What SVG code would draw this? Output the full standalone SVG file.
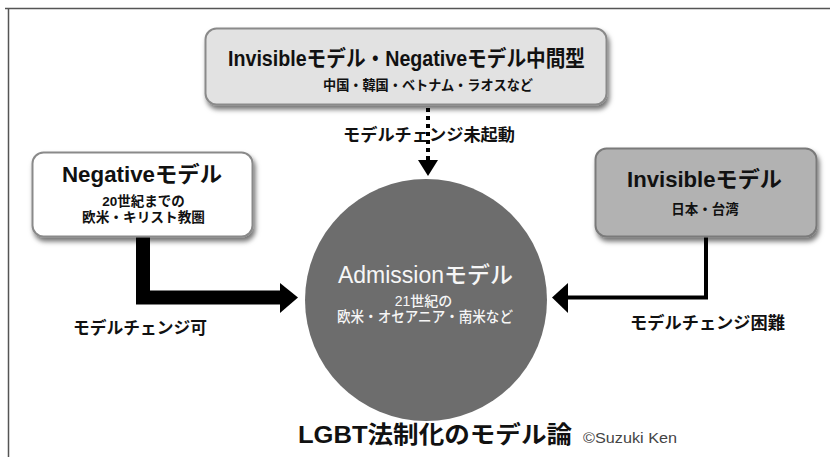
<svg xmlns="http://www.w3.org/2000/svg" width="830" height="457" viewBox="0 0 830 457">
<style>
text{font-family:"Liberation Sans","Noto Sans CJK JP",sans-serif;font-weight:bold;text-anchor:middle;fill:#111}
.t{font-size:22px}
.s{font-size:13.5px}
.lbl{font-size:16.5px}
.w{fill:#f6f6f6;font-weight:500}
</style>
<defs>
<filter id="sh" x="-10%" y="-10%" width="125%" height="135%">
<feDropShadow dx="2" dy="4" stdDeviation="2.5" flood-color="#000" flood-opacity="0.55"/>
</filter>
</defs>
<rect width="830" height="457" fill="#fff"/>
<path d="M5 8.5H830M8.5 8.5V457" fill="none" stroke="#555" stroke-width="1.5"/>

<g id="connectors">
<path d="M143 237V297.5H281" fill="none" stroke="#000" stroke-width="14"/>
<polygon points="280,283 298,297.5 280,313" fill="#000"/>
<path d="M706 237V297.5H566" fill="none" stroke="#000" stroke-width="4"/>
<polygon points="568,283 552,297.5 568,313" fill="#000"/>
<path d="M428 108V160" fill="none" stroke="#000" stroke-width="4" stroke-dasharray="4 4"/>
<polygon points="418,160 438,160 428,176" fill="#000"/>
</g>

<g id="top">
<rect x="205.5" y="28.5" width="401" height="76" rx="11" fill="#e2e2e2" stroke="#8a8a8a" stroke-width="2" filter="url(#sh)"/>
<text class="t" x="406.5" y="66" textLength="357" lengthAdjust="spacingAndGlyphs">Invisibleモデル・Negativeモデル中間型</text>
<text class="s" x="428" y="90" textLength="210" lengthAdjust="spacingAndGlyphs">中国・韓国・ベトナム・ラオスなど</text>
</g>

<g id="negative">
<rect x="32.5" y="152.5" width="220" height="84" rx="11" fill="#fff" stroke="#8a8a8a" stroke-width="2" filter="url(#sh)"/>
<text class="t" x="142" y="182" textLength="160" lengthAdjust="spacingAndGlyphs">Negativeモデル</text>
<text class="s" x="143.5" y="206">20世紀までの</text>
<text class="s" x="143.5" y="222" textLength="123" lengthAdjust="spacingAndGlyphs">欧米・キリスト教圏</text>
</g>

<g id="invisible">
<rect x="595.5" y="148.5" width="221" height="88" rx="11" fill="#b2b2b2" stroke="#7a7a7a" stroke-width="2" filter="url(#sh)"/>
<text class="t" x="704.5" y="187" textLength="155" lengthAdjust="spacingAndGlyphs">Invisibleモデル</text>
<text class="s" x="705" y="214">日本・台湾</text>
</g>

<g id="admission">
<circle cx="426" cy="300" r="121" fill="#6d6d6d"/>
<text class="t w" x="425.5" y="283" textLength="175" lengthAdjust="spacingAndGlyphs" style="font-size:23px">Admissionモデル</text>
<text class="s w" x="423.5" y="306" style="font-size:14px">21世紀の</text>
<text class="s w" x="425" y="322" textLength="176" lengthAdjust="spacingAndGlyphs" style="font-size:14.5px">欧米・オセアニア・南米など</text>
</g>

<g id="labels">
<text class="lbl" x="140" y="334" textLength="134" lengthAdjust="spacingAndGlyphs">モデルチェンジ可</text>
<text class="lbl" x="707.5" y="329" textLength="155" lengthAdjust="spacingAndGlyphs">モデルチェンジ困難</text>
<text class="lbl" x="429" y="141" textLength="172" lengthAdjust="spacingAndGlyphs">モデルチェンジ未起動</text>
</g>

<g id="title">
<text x="435" y="443" style="font-size:23.5px" textLength="274" lengthAdjust="spacingAndGlyphs">LGBT法制化のモデル論</text>
<text x="630" y="443" style="font-size:15px;font-weight:normal;fill:#444" textLength="94" lengthAdjust="spacingAndGlyphs">©Suzuki Ken</text>
</g>
</svg>
